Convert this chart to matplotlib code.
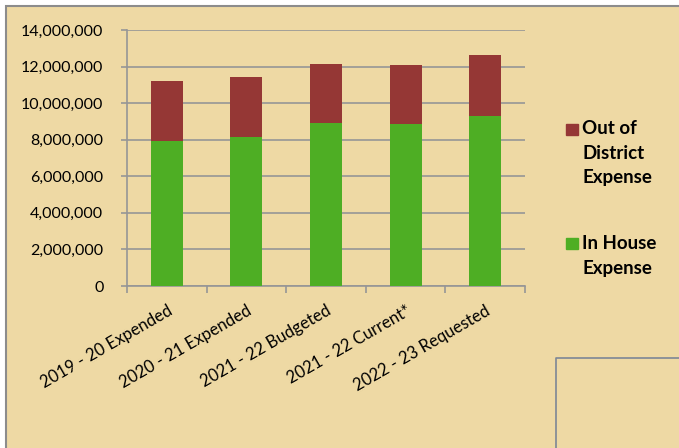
import matplotlib.pyplot as plt
from matplotlib.patches import Rectangle
from matplotlib.lines import Line2D
from matplotlib.ticker import FuncFormatter
import numpy as np

categories = ["2019 - 20 Expended", "2020 - 21 Expended", "2021 - 22 Budgeted",
              "2021 - 22 Current*", "2022 - 23 Requested"]
in_house = [7930000, 8150000, 8920000, 8860000, 9300000]
out_of_district = [3280000, 3290000, 3220000, 3210000, 3310000]

W, H = 679, 448
bg = "#EED9A4"
green = "#4EAE24"
red = "#953735"
gray = "#969696"

plt.rcParams['font.family'] = ['Lato', 'DejaVu Sans']

fig = plt.figure(figsize=(W / 100, H / 100), dpi=100, facecolor="white")

# chart area with papyrus-like fill and grey frame
fig.patches.append(Rectangle((6 / W, -0.1), 1.0, 1.1 - 6 / H, transform=fig.transFigure,
                             facecolor=bg, edgecolor="#8c8c8c", lw=1.5, zorder=-10))

ax = fig.add_axes([127 / W, 1 - 286 / H, 398 / W, 256 / H])
ax.patch.set_alpha(0)

x = np.arange(len(categories))
ax.bar(x, in_house, width=0.4, color=green, zorder=3)
ax.bar(x, out_of_district, width=0.4, bottom=in_house, color=red, zorder=3)

ax.set_xlim(-0.5, len(categories) - 0.5)
ax.set_ylim(0, 14000000)
ax.set_yticks(np.arange(0, 14000001, 2000000))
ax.yaxis.set_major_formatter(FuncFormatter(lambda v, p: f"{int(v):,}"))
ax.yaxis.grid(True, color=gray, lw=1.2)
ax.set_axisbelow(True)

for s in ["top", "right"]:
    ax.spines[s].set_visible(False)
for s in ["left", "bottom"]:
    ax.spines[s].set_color(gray)
    ax.spines[s].set_linewidth(1.2)

ax.tick_params(axis="y", length=4, color=gray, width=1.2, pad=13, labelsize=11.5)
ax.set_xticks(x, categories, rotation=30, ha="right", rotation_mode="anchor")
ax.set_xticks(np.arange(-0.5, len(categories)), minor=True)
ax.tick_params(axis="x", which="major", length=0, pad=12, labelsize=12)
ax.tick_params(axis="x", which="minor", length=5, color=gray, width=1.2)

# legend drawn by hand so the marker sits on the first line
fig.patches.append(Rectangle((566 / W, 1 - 135 / H), 12 / W, 11 / H,
                             transform=fig.transFigure, color=red))
fig.text(582 / W, 1 - 120 / H, "Out of\nDistrict\nExpense", fontsize=13.5,
         fontweight="bold", va="top", ha="left", linespacing=1.55)
fig.patches.append(Rectangle((566 / W, 1 - 249 / H), 12 / W, 11 / H,
                             transform=fig.transFigure, color=green))
fig.text(582 / W, 1 - 235 / H, "In House\nExpense", fontsize=13.5,
         fontweight="bold", va="top", ha="left", linespacing=1.55)

# empty box in the lower right corner
fig.lines.append(Line2D([556 / W, 556 / W, 1.0], [0, 1 - 358 / H, 1 - 358 / H],
                        transform=fig.transFigure, color="#7d8796", lw=1.2))

fig.savefig("out.png", dpi=100, facecolor="white")
